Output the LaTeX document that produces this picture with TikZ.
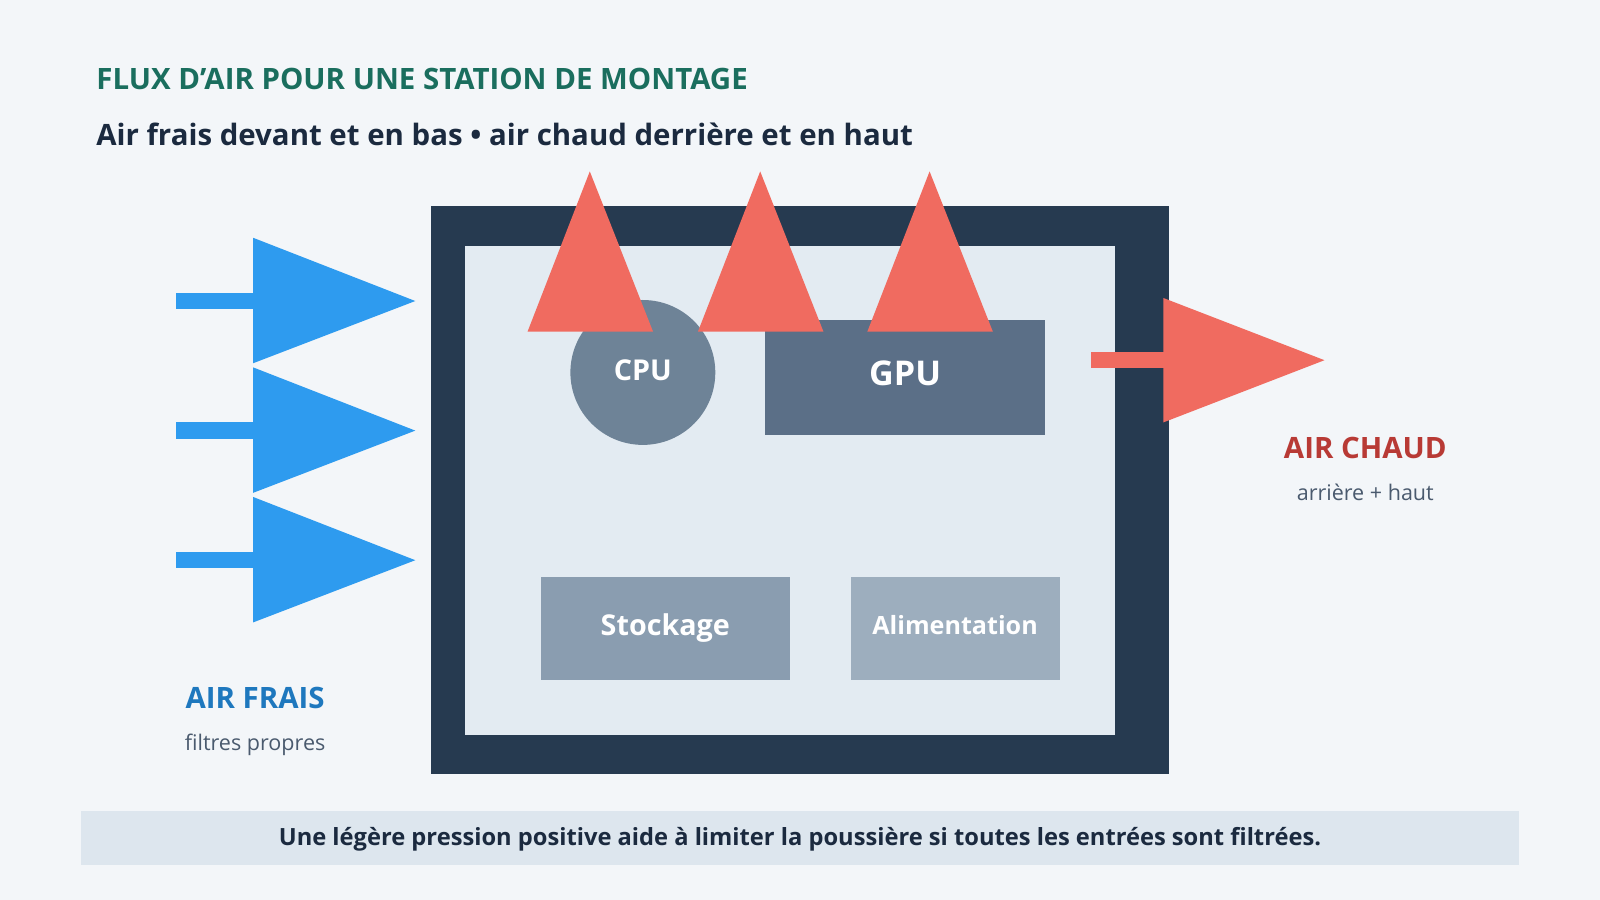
\documentclass[tikz,border=0pt]{standalone}
\usepackage{fontspec}
\setmainfont{Open Sans}
\usetikzlibrary{positioning}
\definecolor{bgc}{HTML}{F3F6F9}
\definecolor{teal}{HTML}{1A6E5E}
\definecolor{ink}{HTML}{1B2A3F}
\definecolor{casec}{HTML}{263A50}
\definecolor{insidec}{HTML}{E3EBF2}
\definecolor{cpuc}{HTML}{6E8397}
\definecolor{gpuc}{HTML}{5B6F87}
\definecolor{stoc}{HTML}{8A9DB0}
\definecolor{alic}{HTML}{9DAEBE}
\definecolor{cold}{HTML}{2E9BEF}
\definecolor{hot}{HTML}{F06B60}
\definecolor{hotlbl}{HTML}{B83A35}
\definecolor{coldlbl}{HTML}{1E78BE}
\definecolor{grayt}{HTML}{4A5A6E}
\definecolor{band}{HTML}{DDE6EE}
\tikzset{
  part/.style={draw=none,text=white,font=\bfseries\fontsize{8}{9}\selectfont},
  side/.style={font=\fontsize{6}{7}\selectfont,text=grayt}
}
\begin{document}
\begin{tikzpicture}[x=0.01cm,y=-0.01cm,line join=round]
  \fill[bgc] (0,0) rectangle (1568,882);
  \useasboundingbox (0,0) rectangle (1568,882);
  % titles
  \node[anchor=west,text=teal,font=\bfseries\fontsize{8.2}{10}\selectfont] (title) at (82,77) {FLUX D’AIR POUR UNE STATION DE MONTAGE};
  \node[anchor=west,text=ink,font=\bfseries\fontsize{8.2}{10}\selectfont] (sub) at (82,132) {Air frais devant et en bas • air chaud derrière et en haut};
  % case
  \fill[casec] (422,202) rectangle (1146,759);
  \fill[insidec] (456,241) rectangle (1093,720);
  \fill[cpuc] (630,365) circle (71);
  \node[part] (cpu) at (630,363) {CPU};
  \fill[gpuc] (750,314) rectangle (1024,426);
  \node[part,font=\bfseries\fontsize{9.5}{11}\selectfont] (gpu) at (887,366) {GPU};
  \fill[stoc] (530,565) rectangle (774,666);
  \node[part] (sto) at (652,615) {Stockage};
  \fill[alic] (834,565) rectangle (1039,666);
  \node[part,font=\bfseries\fontsize{7}{8}\selectfont] (ali) at (936,613) {Alimentation};
  % fresh air
  \foreach \y in {295,422,549}{
    \fill[cold] (172,\y-8) rectangle (250,\y+8);
    \fill[cold] (248,\y-62) -- (407,\y) -- (248,\y+61) -- cycle;
  }
  % hot air
  \foreach \x in {578,745,911}
    \fill[hot] (\x-61,325) -- (\x,168) -- (\x+62,325) -- cycle;
  \fill[hot] (1069,345) rectangle (1142,361);
  \fill[hot] (1140,292) -- (1298,353) -- (1140,414) -- cycle;
  % labels
  \node[text=hotlbl,font=\bfseries\fontsize{8.2}{10}\selectfont] (hot) at (1338,439) {AIR CHAUD};
  \node[side,below=0pt of hot] (hotsub) {arrière + haut};
  \node[text=coldlbl,font=\bfseries\fontsize{8.2}{10}\selectfont] (cold) at (250,684) {AIR FRAIS};
  \node[side,below=0pt of cold] (coldsub) {filtres propres};
  % footer
  \fill[band] (79,795) rectangle (1489,848);
  \node[text=ink,font=\bfseries\fontsize{6.6}{8}\selectfont] (note) at (784,822) {Une légère pression positive aide à limiter la poussière si toutes les entrées sont filtrées.};
\end{tikzpicture}
\end{document}
